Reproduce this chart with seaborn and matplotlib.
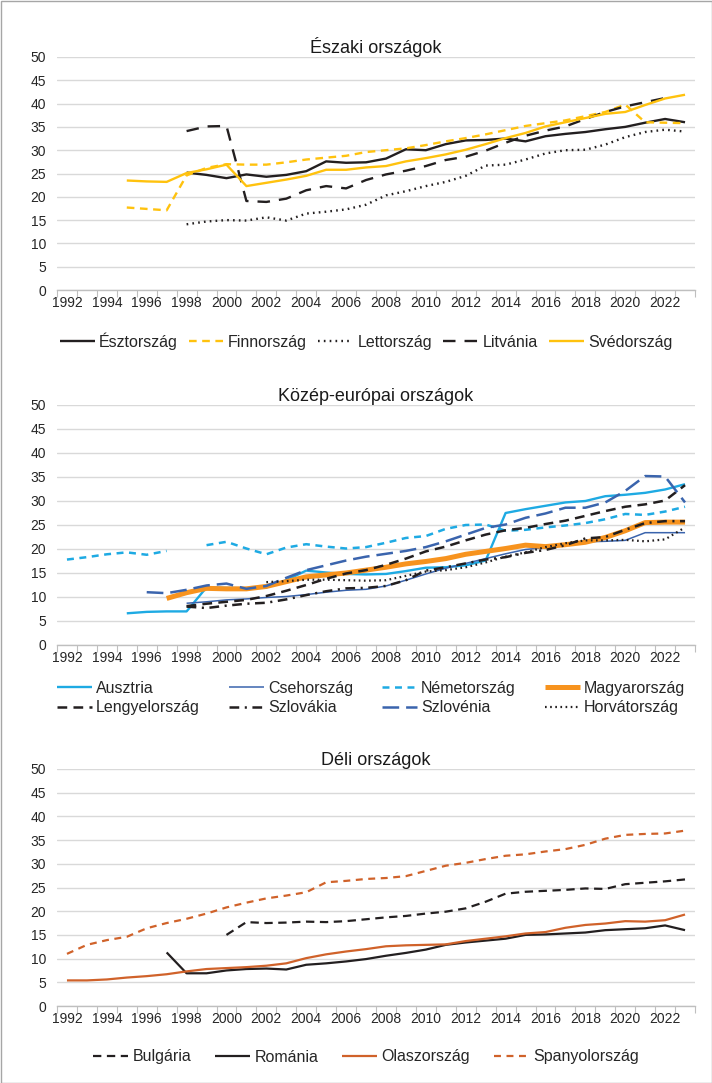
import numpy as np
import pandas as pd
import seaborn as sns
import matplotlib.pyplot as plt
from matplotlib.patches import Rectangle

nan = np.nan
years = list(range(1992, 2024))
xlabels = [str(y) if y % 2 == 0 else '' for y in years]

# --- Északi országok ---
esztorszag = [nan]*6 + [25.2, 24.7, 24.0, 24.8, 24.3, 24.7, 25.5, 27.6, 27.3, 27.4, 28.2, 30.2, 30.0, 31.3,
                        32.1, 32.2, 32.5, 31.9, 33.0, 33.5, 33.9, 34.5, 35.0, 35.9, 36.7, 36.0]
finnorszag = [nan]*3 + [17.7, 17.4, 17.1, 24.6, 26.2, 27.0, 26.9, 26.9, 27.4, 28.0, 28.4, 28.8, 29.6, 30.0, 30.4,
                        31.1, 31.9, 32.6, 33.4, 34.3, 35.2, 35.8, 36.4, 37.3, 38.2, 39.8, 36.0, 35.9, 35.8]
lettorszag = [nan]*6 + [14.1, 14.7, 15.0, 14.9, 15.6, 14.9, 16.4, 16.8, 17.3, 18.3, 20.3, 21.2, 22.3, 23.2,
                        24.5, 26.7, 26.9, 28.0, 29.3, 30.0, 30.1, 31.2, 32.8, 33.9, 34.4, 34.0]
litvania = [nan]*6 + [34.1, 35.1, 35.2, 19.1, 18.9, 19.6, 21.4, 22.3, 21.8, 23.6, 24.8, 25.6, 26.6, 27.9,
                      28.6, 29.9, 31.6, 33.1, 34.2, 35.1, 36.7, 38.2, 39.4, 40.3, 41.2, nan]
svedorszag = [nan]*3 + [23.5, 23.3, 23.2, 25.1, 25.9, 26.9, 22.3, 23.0, 23.7, 24.5, 25.8, 25.8, 26.3, 26.6, 27.6,
                        28.3, 29.1, 30.1, 31.3, 32.6, 33.7, 35.1, 36.0, 36.9, 37.8, 38.2, 39.7, 41.1, 41.9]

# --- Közép-európai országok ---
ausztria = [nan]*3 + [6.6, 6.9, 7.0, 7.0, 12.0, 11.9, 11.8, 12.0, 13.5, 15.5, 15.1, 14.8, 14.7, 14.8, 15.4,
                      16.1, 16.2, 16.6, 17.6, 27.5, 28.3, 29.0, 29.7, 30.0, 31.0, 31.3, 31.7, 32.4, 33.5]
csehorszag = [nan]*6 + [8.7, 9.0, 9.4, 9.6, 9.9, 10.1, 10.5, 11.0, 11.4, 11.6, 12.3, 13.5, 14.8, 16.0,
                        17.0, 18.0, 19.0, 19.9, 20.3, 21.1, 21.5, 21.6, 21.8, 23.4, 23.4, 23.4]
nemetorszag = [17.8, 18.3, 18.9, 19.3, 18.8, 19.6, nan, 20.8, 21.5, 20.1, 18.9, 20.3, 21.0, 20.5, 20.1, 20.4,
               21.3, 22.3, 22.7, 24.2, 25.0, 25.1, 23.8, 24.0, 24.5, 24.9, 25.4, 26.2, 27.3, 27.1, 27.8, 28.8]
magyarorszag = [nan]*5 + [9.7, 10.9, 11.8, 11.7, 11.7, 12.2, 13.2, 14.2, 14.6, 15.0, 15.6, 16.2, 16.9, 17.4,
                          18.0, 18.9, 19.5, 20.1, 20.8, 20.5, 20.9, 21.4, 22.4, 23.8, 25.5, 25.6, 25.6]
lengyelorszag = [nan]*6 + [8.1, 8.6, 9.0, 9.4, 10.2, 11.3, 12.5, 13.8, 14.9, 15.6, 16.7, 18.0, 19.5, 20.5,
                           21.8, 23.0, 23.9, 24.4, 25.2, 25.9, 26.9, 27.9, 28.8, 29.3, 30.1, 33.3]
szlovakia = [nan]*6 + [8.0, 7.7, 8.2, 8.6, 8.8, 9.5, 10.4, 11.2, 11.8, 11.9, 12.3, 13.5, 15.5, 16.2,
                       17.0, 17.8, 18.3, 19.2, 19.8, 20.8, 22.2, 22.5, 24.0, 25.4, 25.8, 25.8]
szlovenia = [nan]*4 + [11.0, 10.8, 11.5, 12.4, 12.8, 11.7, 12.3, 14.0, 15.6, 16.6, 17.6, 18.4, 19.0, 19.6,
                       20.4, 21.6, 23.0, 24.4, 25.1, 26.5, 27.4, 28.6, 28.6, 29.7, 32.1, 35.2, 35.1, 29.7]
horvatorszag = [nan]*10 + [13.1, 13.3, 13.6, 13.6, 13.5, 13.4, 13.5, 14.4, 15.3, 15.6, 16.2, 17.2, 18.4,
                           19.3, 20.4, 21.2, 21.8, 21.8, 21.9, 21.6, 22.0, 24.5]

# --- Déli országok ---
bulgaria = [nan]*8 + [15.0, 17.7, 17.5, 17.6, 17.8, 17.7, 17.9, 18.3, 18.7, 19.0, 19.5, 19.9, 20.6, 22.0,
                      23.7, 24.1, 24.3, 24.5, 24.8, 24.7, 25.7, 26.0, 26.3, 26.7]
romania = [nan]*5 + [11.3, 6.9, 6.9, 7.5, 7.8, 7.9, 7.7, 8.7, 9.0, 9.4, 9.9, 10.6, 11.2, 11.9, 12.9, 13.4,
                     13.8, 14.2, 15.0, 15.1, 15.3, 15.5, 16.0, 16.2, 16.4, 17.0, 16.0]
olaszorszag = [5.4, 5.4, 5.6, 6.0, 6.3, 6.7, 7.3, 7.8, 8.0, 8.2, 8.5, 9.0, 10.1, 10.9, 11.5, 12.0, 12.6,
               12.8, 12.9, 13.0, 13.7, 14.2, 14.7, 15.3, 15.6, 16.5, 17.1, 17.4, 17.9, 17.8, 18.1, 19.3]
spanyolorszag = [11.0, 12.9, 13.9, 14.6, 16.4, 17.5, 18.4, 19.5, 20.8, 21.8, 22.7, 23.3, 24.0, 26.1, 26.4,
                 26.8, 27.0, 27.4, 28.5, 29.6, 30.2, 31.0, 31.7, 32.0, 32.6, 33.1, 34.0, 35.3, 36.1, 36.3,
                 36.4, 37.0]

BLACK = '#231f20'
YELLOW = '#ffc20e'
CYAN = '#1eaae3'
DBLUE = '#3a64ad'
ORANGE = '#f7931e'
RUST = '#d0622a'

sns.set_theme(style='white')
plt.rcParams['font.family'] = ['Liberation Sans', 'DejaVu Sans']
plt.rcParams['lines.scale_dashes'] = False

W, H = 712, 1083
fig = plt.figure(figsize=(W / 100, H / 100), dpi=100)


def make_ax(top, bottom):
    return fig.add_axes([57 / W, 1 - bottom / H, 638 / W, (bottom - top) / H])


def plot_series(ax, name, values, color, lw, ls):
    df = pd.DataFrame({'x': np.arange(len(years)), 'y': values})
    ok = df['y'].notna()
    seg = (~ok).cumsum()
    handle = None
    for _, part in df[ok].groupby(seg[ok]):
        sns.lineplot(data=part, x='x', y='y', ax=ax, color=color, linewidth=lw,
                     linestyle=ls, estimator=None, sort=False, solid_capstyle='butt',
                     dash_capstyle='butt')
        if handle is None:
            handle = ax.lines[-1]
    handle.set_label(name)
    return handle


def style_ax(ax, title):
    ax.set_xlim(-0.5, len(years) - 0.5)
    ax.set_ylim(0, 50)
    ax.set_yticks(np.arange(0, 51, 5))
    ax.set_yticklabels([str(v) for v in range(0, 51, 5)], fontsize=10, color='#262626')
    ax.set_xticks(np.arange(-0.5, len(years), 1))
    ax.set_xticklabels([])
    ax.set_xticks(np.arange(len(years)), minor=True)
    ax.set_xticklabels(xlabels, minor=True, fontsize=10, color='#262626')
    ax.tick_params(axis='x', which='major', length=5, width=0.8, color='#bfbfbf', direction='out', bottom=True)
    ax.tick_params(axis='x', which='minor', length=0, pad=4)
    ax.tick_params(axis='y', length=0, pad=8)
    ax.grid(axis='y', color='#d9d9d9', linewidth=1)
    ax.set_axisbelow(True)
    for s in ['left', 'right', 'top']:
        ax.spines[s].set_visible(False)
    ax.spines['bottom'].set_color('#bfbfbf')
    ax.spines['bottom'].set_linewidth(1)
    ax.set_xlabel('')
    ax.set_ylabel('')
    ax.set_title(title, fontsize=13, color='#1a1a1a', pad=3)


leg_kw = dict(loc='center', bbox_transform=fig.transFigure, frameon=False, fontsize=11.5,
              handlelength=2.2, handletextpad=0.25)

# top panel
ax1 = make_ax(57, 290)
h = [
    plot_series(ax1, 'Észtország', esztorszag, BLACK, 1.7, '-'),
    plot_series(ax1, 'Finnország', finnorszag, YELLOW, 1.7, (0, (5.5, 4))),
    plot_series(ax1, 'Lettország', lettorszag, BLACK, 1.7, (0, (1.2, 3))),
    plot_series(ax1, 'Litvánia', litvania, BLACK, 1.7, (0, (9, 6.5))),
    plot_series(ax1, 'Svédország', svedorszag, YELLOW, 1.7, '-'),
]
style_ax(ax1, 'Északi országok')
ax1.legend(handles=h, bbox_to_anchor=(366 / W, 1 - 341 / H), ncol=5, columnspacing=0.7, **leg_kw)

# middle panel
ax2 = make_ax(405, 645)
h = [
    plot_series(ax2, 'Ausztria', ausztria, CYAN, 1.7, '-'),
    plot_series(ax2, 'Csehország', csehorszag, DBLUE, 1.1, '-'),
    plot_series(ax2, 'Németország', nemetorszag, CYAN, 1.8, (0, (5, 4))),
    plot_series(ax2, 'Magyarország', magyarorszag, ORANGE, 3.6, '-'),
    plot_series(ax2, 'Lengyelország', lengyelorszag, BLACK, 1.8, (0, (7, 4.5))),
    plot_series(ax2, 'Szlovákia', szlovakia, BLACK, 1.8, (0, (7, 4, 1.5, 4))),
    plot_series(ax2, 'Szlovénia', szlovenia, DBLUE, 1.8, (0, (12, 5))),
    plot_series(ax2, 'Horvátország', horvatorszag, BLACK, 1.6, (0, (1.2, 2.5))),
]
style_ax(ax2, 'Közép-európai országok')
# legend is filled column by column, the reference reads row by row
order = [0, 4, 1, 5, 2, 6, 3, 7]
ax2.legend(handles=[h[i] for i in order], bbox_to_anchor=(371 / W, 1 - 698 / H), ncol=4,
           columnspacing=1.8, labelspacing=0.3, **leg_kw)

# bottom panel
ax3 = make_ax(769, 1006)
h = [
    plot_series(ax3, 'Bulgária', bulgaria, BLACK, 1.6, (0, (6, 4))),
    plot_series(ax3, 'Románia', romania, BLACK, 1.6, '-'),
    plot_series(ax3, 'Olaszország', olaszorszag, RUST, 1.6, '-'),
    plot_series(ax3, 'Spanyolország', spanyolorszag, RUST, 1.6, (0, (5, 4))),
]
style_ax(ax3, 'Déli országok')
ax3.legend(handles=h, bbox_to_anchor=(366 / W, 1 - 1057 / H), ncol=4, columnspacing=1.5, **leg_kw)

fig.patches.append(Rectangle((0.5 / W, 0.5 / H), 1 - 1 / W, 1 - 1 / H, transform=fig.transFigure,
                             fill=False, edgecolor='#a6a6a6', linewidth=1))

fig.savefig('out.png', dpi=100)
